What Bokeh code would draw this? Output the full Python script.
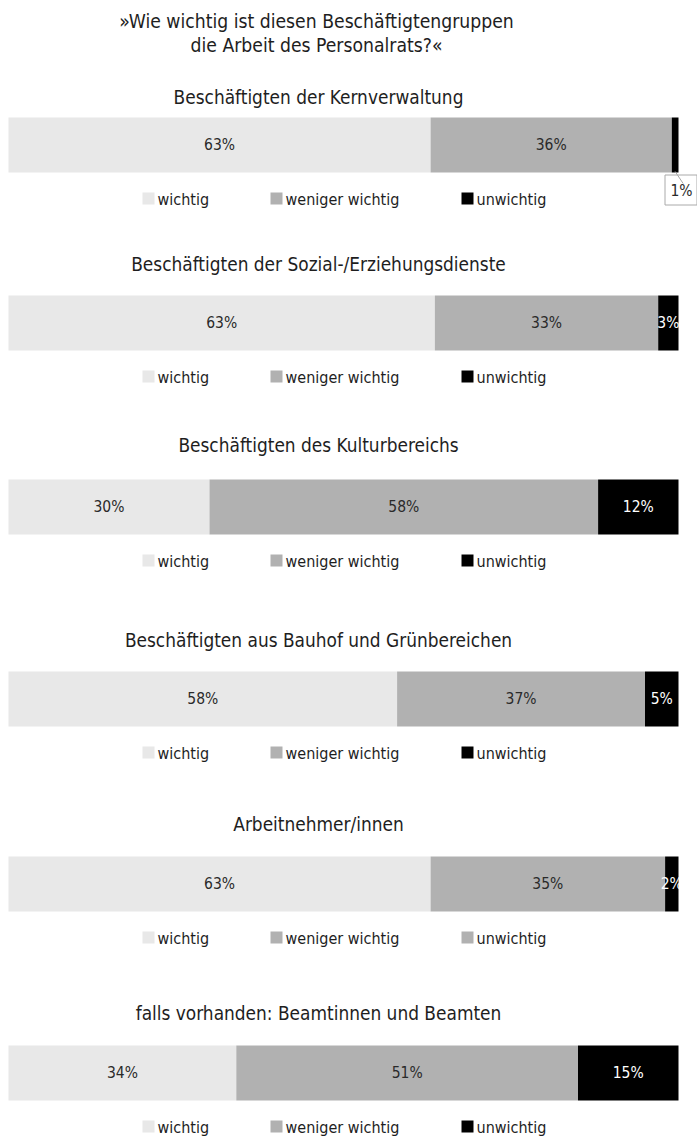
from bokeh.plotting import figure
from bokeh.models import Range1d
from bokeh.embed import file_html
from bokeh.resources import INLINE
from bokeh.core.properties import value

# ---------------- data ----------------
title_lines = ["»Wie wichtig ist diesen Beschäftigtengruppen",
               "die Arbeit des Personalrats?«"]
groups = ["Beschäftigten der Kernverwaltung",
          "Beschäftigten der Sozial-/Erziehungsdienste",
          "Beschäftigten des Kulturbereichs",
          "Beschäftigten aus Bauhof und Grünbereichen",
          "Arbeitnehmer/innen",
          "falls vorhanden: Beamtinnen und Beamten"]
categories = ["wichtig", "weniger wichtig", "unwichtig"]
wichtig = [63, 63, 30, 58, 63, 34]
weniger_wichtig = [36, 33, 58, 37, 35, 51]
unwichtig = [1, 3, 12, 5, 2, 15]
colors = ["#e8e8e8", "#b1b1b1", "#000000"]
# the source shows a grey 'unwichtig' swatch in the 5th legend
legend_third_colors = ["#000000", "#000000", "#000000", "#000000", "#b1b1b1", "#000000"]

# ---------------- layout (pixels) ----------------
W, H = 697, 1144
BAR_X0, BAR_PX = 8, 670
S = BAR_PX / 100.0
FONT = value("'DejaVu Sans Condensed', Roboto")
TXT = "#1e1e1e"
SUB_Y = [96, 263, 444, 639, 823, 1012]
BAR_TOP = [117, 295, 479, 671, 856, 1045]
BAR_H = 55

p = figure(width=W, height=H, output_backend="svg", toolbar_location=None,
           x_range=Range1d(-BAR_X0 / S, (W - BAR_X0) / S), y_range=Range1d(H, 0),
           min_border=0, outline_line_color=None)
p.extra_x_ranges = {"px": Range1d(0, W)}
p.axis.visible = False
p.grid.visible = False
p.background_fill_color = "white"


def ptext(x, y, t, size, color=TXT, align="center"):
    p.text(x=[x], y=[y], text=[t], x_range_name="px", text_font=FONT,
           text_font_size=size, text_color=color, text_align=align,
           text_baseline="middle")


ptext(316, 21, title_lines[0], "19.2px")
ptext(316, 45, title_lines[1], "19.2px")

series = [wichtig, weniger_wichtig, unwichtig]
for i, g in enumerate(groups):
    top = BAR_TOP[i]
    yc = top + BAR_H / 2
    ptext(318, SUB_Y[i], g, "18.9px")
    total = sum(s[i] for s in series)
    left = 0.0
    for k, s in enumerate(series):
        v = s[i]
        l = left / total * 100
        r = (left + v) / total * 100
        p.hbar(y=[yc], left=[l], right=[r], height=BAR_H, fill_color=colors[k],
               line_color=None)
        if not (i == 0 and k == 2):
            p.text(x=[(l + r) / 2], y=[yc], text=[f"{v}%"], text_font=FONT,
                   text_font_size="15.5px",
                   text_color="white" if k == 2 else "#2a2a2a",
                   text_align="center", text_baseline="middle")
        left += v
    # legend
    ly = top + BAR_H + 26
    lcols = [colors[0], colors[1], legend_third_colors[i]]
    mx = [148, 276, 467]
    for k in range(3):
        p.scatter(x=[mx[k]], y=[ly], marker="square", size=12, x_range_name="px",
                  fill_color=lcols[k], line_color=None)
        ptext(mx[k] + 9, ly + 1, categories[k], "16px", align="left")
    # call-out for the tiny 1 % segment
    if i == 0:
        seg_c = (total - unwichtig[0] / 2) / total * 100
        p.quad(left=[664.5], right=[696.5], top=[top + BAR_H + 2.5],
               bottom=[top + BAR_H + 32.5], x_range_name="px",
               fill_color="white", line_color="#aaaaaa", line_width=1)
        p.segment(x0=[seg_c], y0=[top + BAR_H - 1], x1=[seg_c + 8 / S],
                  y1=[top + BAR_H + 11],
                  line_color="#aaaaaa", line_width=1)
        ptext(681, top + BAR_H + 18, f"{unwichtig[0]}%", "15.5px", color="#2a2a2a")

open("out.html", "w").write(file_html(p, INLINE))
